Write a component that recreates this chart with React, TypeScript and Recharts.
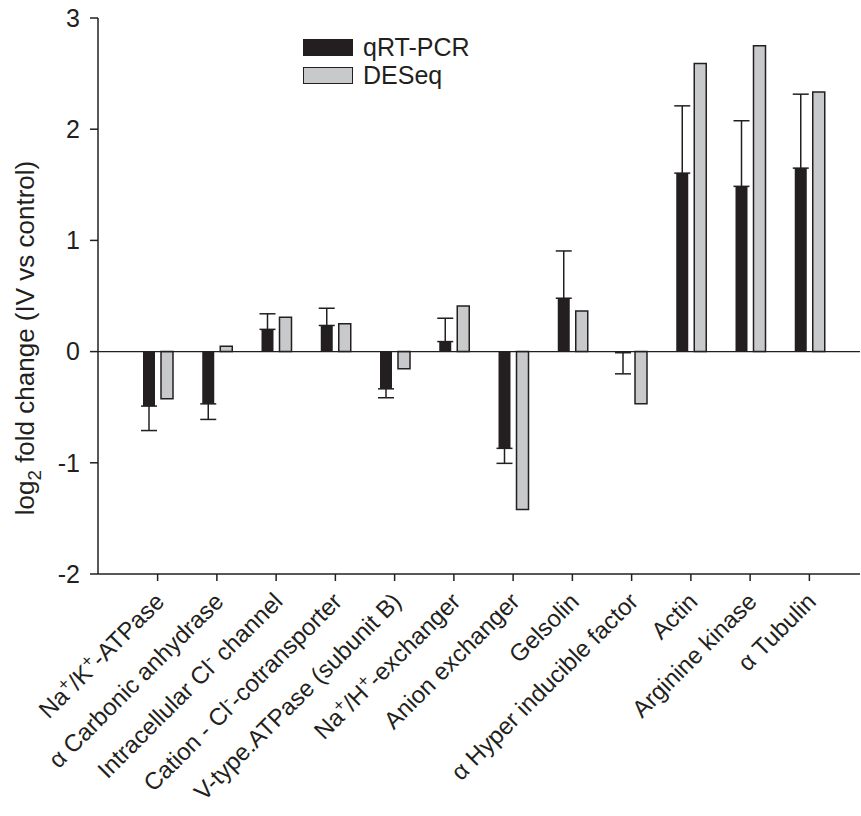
import React from "react";
import { Bar, BarChart, ErrorBar, ReferenceLine, XAxis, YAxis } from "recharts";

const genes = [
  "Na⁺/K⁺-ATPase",
  "α Carbonic anhydrase",
  "Intracellular Cl⁻ channel",
  "Cation - Cl⁻-cotransporter",
  "V-type.ATPase (subunit B)",
  "Na⁺/H⁺-exchanger",
  "Anion exchanger",
  "Gelsolin",
  "α Hyper inducible factor",
  "Actin",
  "Arginine kinase",
  "α Tubulin",
];
const qpcr = [-0.49, -0.47, 0.2, 0.235, -0.335, 0.09, -0.87, 0.48, -0.01, 1.605, 1.486, 1.65];
const qpcrErr = [0.22, 0.14, 0.14, 0.155, 0.08, 0.21, 0.135, 0.425, 0.19, 0.605, 0.59, 0.665];
const deseq = [-0.425, 0.048, 0.31, 0.25, -0.155, 0.41, -1.42, 0.366, -0.47, 2.59, 2.75, 2.335];
const yTicks = [-2, -1, 0, 1, 2, 3];

const INK = "#231f20";
const GREY = "#c8c9cb";
const FONT = '"Liberation Sans", Arial, Helvetica, sans-serif';

// error bars only go away from zero, like the original figure
const data = genes.map((name, i) => ({
  name,
  qpcr: qpcr[i],
  deseq: deseq[i],
  err: qpcr[i] < 0 ? [qpcrErr[i], 0] : [0, qpcrErr[i]],
}));

// turns ⁺ ⁻ ₂ into shifted tspans
function rich(s: string, size: number) {
  const parts = s.split(/([⁺⁻₂])/).filter((p) => p !== "");
  let shift = 0;
  return parts.map((p, i) => {
    const prev = shift;
    if (p === "⁺" || p === "⁻" || p === "₂") {
      shift = p === "₂" ? size * 0.28 : -size * 0.38;
      const ch = p === "⁺" ? "+" : p === "⁻" ? "-" : "2";
      return (
        <tspan key={i} dy={shift - prev} fontSize={size * 0.72}>
          {ch}
        </tspan>
      );
    }
    shift = 0;
    return (
      <tspan key={i} dy={-prev}>
        {p}
      </tspan>
    );
  });
}

function XTick(props: any) {
  const { x, y, payload } = props;
  return (
    <g transform={`translate(${x + 8},${y + 20})`}>
      <text transform="rotate(-45)" textAnchor="end" fontSize={24} fill={INK} fontFamily={FONT}>
        {rich(payload.value, 24)}
      </text>
    </g>
  );
}

function YTitle() {
  return (
    <svg width={60} height={600} style={{ position: "absolute", left: 0, top: 0 }}>
      <text
        transform="translate(34,338) rotate(-90)"
        textAnchor="middle"
        fontSize={26}
        fill={INK}
        fontFamily={FONT}
      >
        {rich("log₂ fold change (IV vs control)", 26)}
      </text>
    </svg>
  );
}

function LegendBox() {
  const row = (fill: string, label: string) => (
    <div style={{ display: "flex", alignItems: "center", height: 28 }}>
      <div
        style={{
          width: 50,
          height: 17,
          boxSizing: "border-box",
          background: fill,
          border: `1.5px solid ${INK}`,
          marginRight: 10,
        }}
      />
      <span style={{ fontSize: 25, lineHeight: "28px", color: INK, fontFamily: FONT }}>{label}</span>
    </div>
  );
  return (
    <div style={{ position: "absolute", left: 303, top: 33 }}>
      {row(INK, "qRT-PCR")}
      {row(GREY, "DESeq")}
    </div>
  );
}

export default function App() {
  return (
    <div style={{ position: "absolute", left: 0, top: 0, width: 861, height: 816, background: "#fff" }}>
      <BarChart
        width={861}
        height={816}
        data={data}
        margin={{ top: 18, right: 1, bottom: 12, left: 0 }}
        barSize={12}
        barGap={6}
        accessibilityLayer={false}
      >
        <XAxis
          dataKey="name"
          interval={0}
          height={230}
          tick={<XTick />}
          tickSize={7}
          axisLine={{ stroke: INK, strokeWidth: 1.5 }}
          tickLine={{ stroke: INK, strokeWidth: 1.5 }}
          padding={{ left: 30, right: 21 }}
        />
        <YAxis
          width={98}
          domain={[-2, 3]}
          ticks={yTicks}
          interval={0}
          tickSize={8}
          tickMargin={10}
          tick={{ fontSize: 25, fill: INK, fontFamily: FONT }}
          axisLine={{ stroke: INK, strokeWidth: 1.5 }}
          tickLine={{ stroke: INK, strokeWidth: 1.5 }}
        />
        <ReferenceLine y={0} stroke={INK} strokeWidth={1.3} />
        <Bar dataKey="qpcr" name="qRT-PCR" fill={INK} isAnimationActive={false}>
          <ErrorBar dataKey="err" direction="y" width={8} stroke={INK} strokeWidth={1.5} />
        </Bar>
        <Bar
          dataKey="deseq"
          name="DESeq"
          fill={GREY}
          stroke={INK}
          strokeWidth={1.5}
          isAnimationActive={false}
        />
      </BarChart>
      <YTitle />
      <LegendBox />
    </div>
  );
}
